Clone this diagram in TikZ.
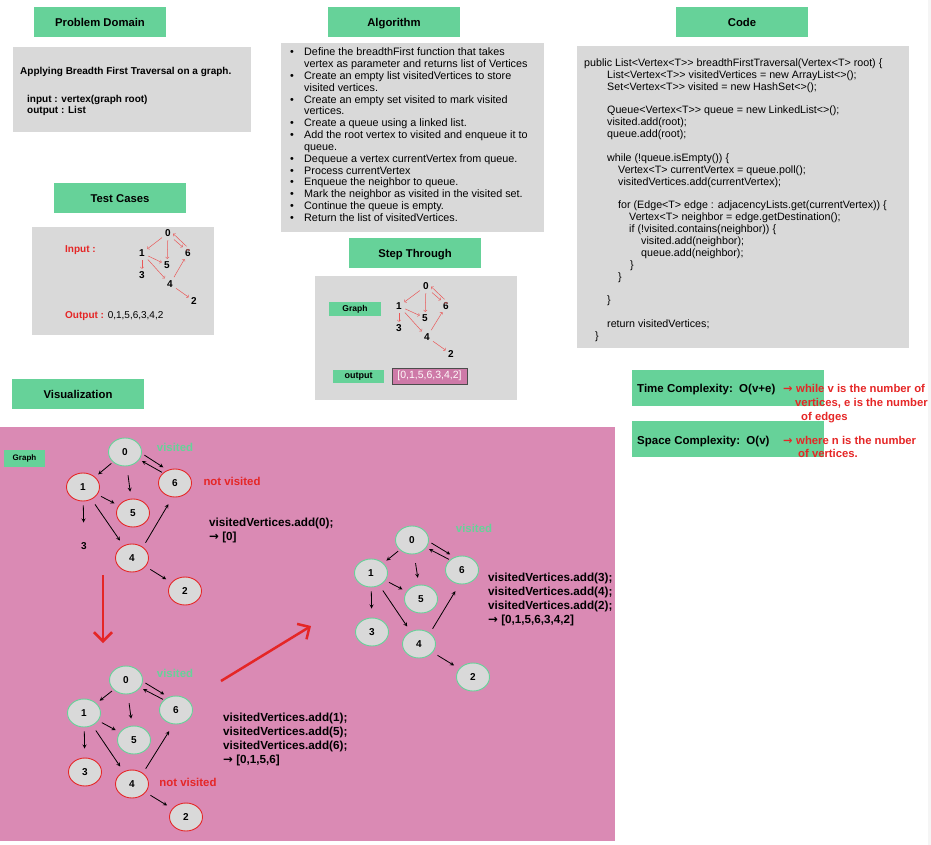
\documentclass[tikz,border=0pt]{standalone}
\usepackage{fontspec}
\setmainfont{Liberation Sans}[Ligatures=TeXOff]
\newfontfamily\arrowfont{DejaVu Sans}
\usepackage{tikz}
\usetikzlibrary{calc,positioning,arrows,arrows.meta,shapes}
\definecolor{headgreen}{RGB}{102,210,153}
\definecolor{panelgray}{RGB}{217,217,217}
\definecolor{vispink}{RGB}{218,138,180}
\definecolor{listpink}{RGB}{206,122,168}
\definecolor{alertred}{RGB}{229,38,38}
\definecolor{edgered}{RGB}{233,88,88}
\newcommand{\algitem}{\makebox[14pt][l]{\textbullet}}
\newcommand{\algcont}{\hspace*{14pt}}
\newcommand{\codeind}[1]{\hspace*{#1pt}}
\newcommand{\toarrow}{{\arrowfont →}}
\tikzstyle{header}   = [rectangle, fill=headgreen, minimum width=132pt, minimum height=30pt, text height=8.2pt, text depth=0pt, font=\fontsize{11.3}{13}\selectfont\bfseries]
\tikzstyle{panel}    = [rectangle, fill=panelgray, inner sep=0pt]
\tikzstyle{tag}      = [rectangle, fill=headgreen, inner sep=0pt, font=\fontsize{8.5}{10}\selectfont\bfseries]
\tikzstyle{vtx}      = [ellipse, fill=panelgray, minimum width=33pt, minimum height=28pt, inner sep=0pt, line width=0.9pt, font=\fontsize{10}{12}\selectfont\bfseries]
\tikzstyle{seen}     = [vtx, draw=headgreen]
\tikzstyle{unseen}   = [vtx, draw=alertred]
\tikzstyle{bare}     = [vtx, fill=none]
\tikzstyle{smallvtx} = [inner sep=1.5pt, font=\fontsize{10}{12}\selectfont\bfseries]
\tikzstyle{note}     = [anchor=base west, align=left, inner sep=0pt, font=\fontsize{11.7}{14}\selectfont\bfseries]
\tikzstyle{statuslabel} = [inner sep=0pt, font=\fontsize{11.4}{13}\selectfont\bfseries]
\tikzstyle{arrow}    = [thick,->,>=stealth]
\tikzstyle{redarrow} = [->,>=to,draw=edgered,line width=0.5pt]
\tikzstyle{flow}     = [-{Straight Barb[length=9pt,width=18pt]}, draw=alertred, line width=2.5pt]

\begin{document}
\begin{tikzpicture}[x=1pt,y=-1pt]
	\useasboundingbox (0,0) rectangle (931,845);
	\fill[black!4] (928,0) rectangle (931,845);

	% panels
	\node[panel, minimum width=238pt, minimum height=85pt] (domainbox) at (132,89.5) {};
	\node[panel, minimum width=182pt, minimum height=108pt] (testbox) at (123,281) {};
	\node[panel, minimum width=263pt, minimum height=189pt] (algobox) at (412.5,137.5) {};
	\node[panel, minimum width=332pt, minimum height=302pt] (codebox) at (743,197) {};
	\node[panel, minimum width=202pt, minimum height=124pt] (stepbox) at (416,338) {};
	\node[panel, fill=vispink, minimum width=615pt, minimum height=414pt] (visbox) at (307.5,634) {};
	\node[header, minimum width=192pt, minimum height=36pt] (timebox) at (728,388) {};
	\node[header, minimum width=192pt, minimum height=36pt] (spacebox) at (728,439) {};

	% headers
	\node[header] (domainhead) at (100,22) {Problem Domain};
	\node[header] (algohead) at (394,22) {Algorithm};
	\node[header] (codehead) at (742,22) {Code};
	\node[header] (testhead) at (120,198) {Test Cases};
	\node[header] (stephead) at (415,253) {Step Through};
	\node[header] (vishead) at (78,394) {Visualization};

	% problem domain (multi-line nodes sit on their last baseline)
	\node[anchor=base west, inner sep=0pt, font=\fontsize{10}{11.5}\selectfont\bfseries] (domaintitle) at (20,74.5) {Applying Breadth First Traversal on a graph.};
	\node[anchor=base west, align=left, inner sep=0pt, font=\fontsize{10}{11}\selectfont\bfseries] (domainio) at (27,113.5) {input : vertex(graph root)\\output : List};

	% algorithm
	\node[anchor=base west, align=left, inner sep=0pt, font=\fontsize{10.8}{11.85}\selectfont] (algotext) at (290,221.5) {%
		\algitem Define the breadthFirst function that takes\\
		\algcont vertex as parameter and returns list of Vertices\\
		\algitem Create an empty list visitedVertices to store\\
		\algcont visited vertices.\\
		\algitem Create an empty set visited to mark visited\\
		\algcont vertices.\\
		\algitem Create a queue using a linked list.\\
		\algitem Add the root vertex to visited and enqueue it to\\
		\algcont queue.\\
		\algitem Dequeue a vertex currentVertex from queue.\\
		\algitem Process currentVertex\\
		\algitem Enqueue the neighbor to queue.\\
		\algitem Mark the neighbor as visited in the visited set.\\
		\algitem Continue the queue is empty.\\
		\algitem Return the list of visitedVertices.};

	% code
	\node[anchor=base west, align=left, inner sep=0pt, font=\fontsize{10.7}{11.87}\selectfont] (codetext) at (584,339.5) {%
		public List<Vertex<T>> breadthFirstTraversal(Vertex<T> root) \{\\
		\codeind{23}List<Vertex<T>> visitedVertices = new ArrayList<>();\\
		\codeind{23}Set<Vertex<T>> visited = new HashSet<>();\\
		~\\
		\codeind{23}Queue<Vertex<T>> queue = new LinkedList<>();\\
		\codeind{23}visited.add(root);\\
		\codeind{23}queue.add(root);\\
		~\\
		\codeind{23}while (!queue.isEmpty()) \{\\
		\codeind{34}Vertex<T> currentVertex = queue.poll();\\
		\codeind{34}visitedVertices.add(currentVertex);\\
		~\\
		\codeind{34}for (Edge<T> edge : adjacencyLists.get(currentVertex)) \{\\
		\codeind{45}Vertex<T> neighbor = edge.getDestination();\\
		\codeind{45}if (!visited.contains(neighbor)) \{\\
		\codeind{57}visited.add(neighbor);\\
		\codeind{57}queue.add(neighbor);\\
		\codeind{46}\}\\
		\codeind{34}\}\\
		~\\
		\codeind{23}\}\\
		~\\
		\codeind{23}return visitedVertices;\\
		\codeind{11}\}};

	% test cases
	\node[anchor=base west, inner sep=0pt, text=alertred, font=\fontsize{10}{12}\selectfont\bfseries] (inputlabel) at (65,252.5) {Input :};
	\node[anchor=base west, inner sep=0pt, font=\fontsize{10}{12}\selectfont] (outputlabel) at (65,318.5) {{\color{alertred}\bfseries Output :} 0,1,5,6,3,4,2};
	\node[smallvtx] (t0) at (168,233) {0};
	\node[smallvtx] (t1) at (142,253) {1};
	\node[smallvtx] (t6) at (188,253) {6};
	\node[smallvtx] (t5) at (167,265) {5};
	\node[smallvtx] (t3) at (142,275) {3};
	\node[smallvtx] (t4) at (170,284) {4};
	\node[smallvtx] (t2) at (194,301) {2};
	\path[redarrow, shorten <=2pt, shorten >=1pt] (t0) edge (t1) edge (t5)
		(t0.south east) edge (t6.north west) (t6.north) edge (t0.east)
		(t1) edge (t3) edge (t5) edge (t4) (t4) edge (t6) edge (t2);

	% step through
	\node[tag, minimum width=52pt, minimum height=14pt] (steptag) at (355,309) {Graph};
	\node[tag, minimum width=51pt, minimum height=13pt, font=\fontsize{9}{11}\selectfont\bfseries] (outtag) at (358.5,376.5) {output};
	\node[rectangle, fill=listpink, draw=black!70, line width=0.8pt, minimum width=75pt, minimum height=16pt, inner sep=0pt, text=white!92!pink, font=\fontsize{10.5}{12}\selectfont] (outlist) at (429.5,376) {[0,1,5,6,3,4,2]};
	\node[smallvtx] (s0) at (426,286) {0};
	\node[smallvtx] (s1) at (399,306) {1};
	\node[smallvtx] (s6) at (446,306) {6};
	\node[smallvtx] (s5) at (425,318) {5};
	\node[smallvtx] (s3) at (399,328) {3};
	\node[smallvtx] (s4) at (427,337) {4};
	\node[smallvtx] (s2) at (451,354) {2};
	\path[redarrow, shorten <=2pt, shorten >=1pt] (s0) edge (s1) edge (s5)
		(s0.south east) edge (s6.north west) (s6.north) edge (s0.east)
		(s1) edge (s3) edge (s5) edge (s4) (s4) edge (s6) edge (s2);

	% complexity
	\node[anchor=base west, inner sep=0pt, font=\fontsize{11.5}{13}\selectfont\bfseries] (timetext) at (637,392) {Time Complexity:\ \ O(v+e)};
	\node[anchor=base west, inner sep=0pt, font=\fontsize{11.5}{13}\selectfont\bfseries] (spacetext) at (637,444) {Space Complexity:\ \ O(v)};
	\node[anchor=base west, align=left, inner sep=0pt, text=alertred, font=\fontsize{11.3}{14}\selectfont\bfseries] (timenote) at (783,420) {\makebox[13pt][l]{\toarrow}while v is the number of\\\hspace*{12pt}vertices, e is the number\\\hspace*{18pt}of edges};
	\node[anchor=base west, align=left, inner sep=0pt, text=alertred, font=\fontsize{11.3}{13.5}\selectfont\bfseries] (spacenote) at (783,457.5) {\makebox[13pt][l]{\toarrow}where n is the number\\\hspace*{15pt}of vertices.};

	% visualization
	\node[tag, minimum width=41pt, minimum height=17pt, font=\fontsize{8}{10}\selectfont\bfseries] (vistag) at (24.5,458.5) {Graph};

	% first step
	\node[seen] (a0) at (125,452) {0};
	\node[unseen] (a1) at (83,487) {1};
	\node[unseen] (a6) at (175,483) {6};
	\node[unseen] (a5) at (133,513) {5};
	\node[bare] (a3) at (84,546) {3};
	\node[unseen] (a4) at (132,558) {4};
	\node[unseen] (a2) at (185,591) {2};
	\path[arrow] (a0) edge[shorten <=2pt, shorten >=4pt] (a1) edge[shorten <=9pt, shorten >=7pt] (a5)
		(a0.-5) edge[shorten <=3pt, shorten >=5pt] (a6.120) (a6.140) edge[shorten <=1pt, shorten >=3pt] (a0.-28)
		(a1) edge[shorten <=4pt, shorten >=9pt] (a3) edge[shorten <=4pt, shorten >=4.5pt] (a5) edge[shorten <=6pt, shorten >=6pt] (a4)
		(a4.45) edge[shorten <=5pt, shorten >=8pt] (a6.-100) (a4) edge[shorten <=5.5pt, shorten >=6pt] (a2);
	\node[statuslabel, text=headgreen] (avisited) at (175,447) {visited};
	\node[statuslabel, text=alertred] (anotvisited) at (232,481) {not visited};
	\node[note] (astep) at (209,540) {visitedVertices.add(0);\\\toarrow\ [0]};

	% second step
	\node[seen] (b0) at (126,680) {0};
	\node[seen] (b1) at (84,713) {1};
	\node[seen] (b6) at (176,710) {6};
	\node[seen] (b5) at (134,740) {5};
	\node[unseen] (b3) at (85,772) {3};
	\node[unseen] (b4) at (132,784) {4};
	\node[unseen] (b2) at (186,817) {2};
	\path[arrow] (b0) edge[shorten <=2pt, shorten >=4pt] (b1) edge[shorten <=9pt, shorten >=7pt] (b5)
		(b0.-5) edge[shorten <=3pt, shorten >=5pt] (b6.120) (b6.140) edge[shorten <=1pt, shorten >=3pt] (b0.-28)
		(b1) edge[shorten <=4pt, shorten >=9pt] (b3) edge[shorten <=4pt, shorten >=4.5pt] (b5) edge[shorten <=6pt, shorten >=6pt] (b4)
		(b4.45) edge[shorten <=5pt, shorten >=8pt] (b6.-100) (b4) edge[shorten <=5.5pt, shorten >=6pt] (b2);
	\node[statuslabel, text=headgreen] (bvisited) at (175,673) {visited};
	\node[statuslabel, text=alertred] (bnotvisited) at (188,782) {not visited};
	\node[note] (bstep) at (223,763) {visitedVertices.add(1);\\visitedVertices.add(5);\\visitedVertices.add(6);\\\toarrow\ [0,1,5,6]};

	% third step
	\node[seen] (c0) at (412,540) {0};
	\node[seen] (c1) at (371,573) {1};
	\node[seen] (c6) at (462,570) {6};
	\node[seen] (c5) at (421,599) {5};
	\node[seen] (c3) at (372,632) {3};
	\node[seen] (c4) at (419,644) {4};
	\node[seen] (c2) at (473,677) {2};
	\path[arrow] (c0) edge[shorten <=2pt, shorten >=4pt] (c1) edge[shorten <=9pt, shorten >=7pt] (c5)
		(c0.-5) edge[shorten <=3pt, shorten >=5pt] (c6.120) (c6.140) edge[shorten <=1pt, shorten >=3pt] (c0.-28)
		(c1) edge[shorten <=4pt, shorten >=9pt] (c3) edge[shorten <=4pt, shorten >=4.5pt] (c5) edge[shorten <=6pt, shorten >=6pt] (c4)
		(c4.45) edge[shorten <=5pt, shorten >=8pt] (c6.-100) (c4) edge[shorten <=5.5pt, shorten >=6pt] (c2);
	\node[statuslabel, text=headgreen] (cvisited) at (474,528) {visited};
	\node[note] (cstep) at (488,623) {visitedVertices.add(3);\\visitedVertices.add(4);\\visitedVertices.add(2);\\\toarrow\ [0,1,5,6,3,4,2]};

	% flow between steps
	\coordinate (downstart) at (103,575);
	\coordinate (downend) at (103,643);
	\coordinate (diagstart) at (221,681);
	\coordinate (diagend) at (311,626);
	\draw[flow] (downstart) -- (downend);
	\draw[flow] (diagstart) -- (diagend);
\end{tikzpicture}
\end{document}
